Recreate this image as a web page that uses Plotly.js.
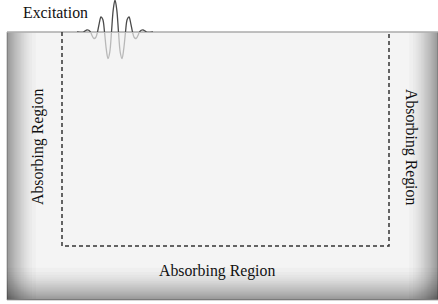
<!DOCTYPE html>
<html>
<head>
<meta charset="utf-8">
<script src="https://cdn.plot.ly/plotly-3.0.1.min.js"></script>
<style>html,body{margin:0;padding:0;background:#fff}#chart{width:438px;height:304px}</style>
</head>
<body>
<div id="chart"></div>
<script>
// Excitation wavelet: horizontal offset (px) from pulse centre, amplitude (px)
var waveOffset = [-38,-35,-33.25,-31.5,-29.75,-28,-26.25,-24.5,-22.75,-21,-19.25,-17.5,-15.75,-14,-12.25,-10.5,-8.75,-7,-5.25,-3.5,-1.75,0,1.75,3.5,5.25,7,8.75,10.5,12.25,14,15.75,17.5,19.25,21,22.75,24.5,26.25,28,29.75,31.5,33.25,35,38];
var waveAmp    = [0,-0.3,-0.3,0,1.2,2.2,1.8,0,-4,-6.5,-5.5,0,8.7,15,12.7,0,-16.9,-26.5,-20.3,0,22.4,32,22.4,0,-20.3,-26.5,-16.9,0,12.7,15,8.7,0,-5.5,-6.5,-4,0,1.8,2.2,1.2,0,-0.3,-0.3,0];

// labels
var labelExcitation = "Excitation";
var labelRegion = "Absorbing Region";

// geometry (pixels)
var W = 438, H = 304;
var box = {x0: 7, x1: 438, y0: 32, y1: 300};
var inner = {x0: 62, x1: 389, y1: 246};
var pulseX = 115;

var shapes = [];
shapes.push({type:'rect', xref:'x', yref:'y', x0:box.x0, x1:box.x1, y0:box.y0, y1:box.y1,
  fillcolor:'#f4f4f4', line:{color:'#b0b0b0', width:1}, layer:'below'});
var N = 22, op = 0.021, Ls = 34, Lb = 38;
for (var j = 1; j <= N; j++) {
  var f = 1 - Math.sqrt((j - 0.5) / N);
  var ws = Ls * f, wb = Lb * f;
  shapes.push({type:'rect', xref:'x', yref:'y', x0:box.x0, x1:box.x0 + ws, y0:box.y0+0.5, y1:box.y1,
    fillcolor:'rgba(0,0,0,'+op+')', line:{width:0}, layer:'below'});
  shapes.push({type:'rect', xref:'x', yref:'y', x0:box.x1 - ws, x1:box.x1, y0:box.y0+0.5, y1:box.y1,
    fillcolor:'rgba(0,0,0,'+op+')', line:{width:0}, layer:'below'});
  shapes.push({type:'rect', xref:'x', yref:'y', x0:box.x0, x1:box.x1, y0:box.y1 - wb, y1:box.y1,
    fillcolor:'rgba(0,0,0,'+op+')', line:{width:0}, layer:'below'});
}
shapes.push({type:'line', xref:'x', yref:'y', x0:box.x0, x1:box.x1, y0:box.y1-0.5, y1:box.y1-0.5,
  line:{color:'#7a7a7a', width:1.2}, layer:'below'});
shapes.push({type:'line', xref:'x', yref:'y', x0:box.x0, x1:box.x1, y0:box.y0, y1:box.y0,
  line:{color:'#a8a8a8', width:1}, layer:'below'});
shapes.push({type:'path', xref:'x', yref:'y',
  path:'M'+inner.x0+','+box.y0+' L'+inner.x0+','+inner.y1+' L'+inner.x1+','+inner.y1+' L'+inner.x1+','+box.y0,
  line:{color:'#333333', width:1.5, dash:'4px,3px'}});

var font = {family:'"Liberation Serif", "Times New Roman", serif', size:15.8, color:'#111111'};
var annotations = [
  {xref:'x', yref:'y', x:55.5, y:12.5, text:labelExcitation, showarrow:false, font:font},
  {xref:'x', yref:'y', x:38, y:147, text:labelRegion, showarrow:false, textangle:-90, font:font},
  {xref:'x', yref:'y', x:411, y:147, text:labelRegion, showarrow:false, textangle:90, font:font},
  {xref:'x', yref:'y', x:217, y:271, text:labelRegion, showarrow:false, font:font}
];

var traces = [
  {x:waveOffset, y:waveAmp, xaxis:'x2', yaxis:'y2', type:'scatter', mode:'lines',
   line:{color:'#4a4a4a', width:1.3, shape:'spline', smoothing:1}, hoverinfo:'skip'},
  {x:waveOffset, y:waveAmp, xaxis:'x2', yaxis:'y3', type:'scatter', mode:'lines',
   line:{color:'#b8b8b8', width:1.3, shape:'spline', smoothing:1}, hoverinfo:'skip'}
];

var hidden = {showgrid:false, zeroline:false, showticklabels:false, ticks:'', showline:false, fixedrange:true};
var layout = {
  width:W, height:H, margin:{l:0, r:0, t:0, b:0, pad:0},
  paper_bgcolor:'#ffffff', plot_bgcolor:'rgba(0,0,0,0)', showlegend:false,
  xaxis:Object.assign({range:[0, W], domain:[0,1]}, hidden),
  yaxis:Object.assign({range:[H, 0], domain:[0,1]}, hidden),
  xaxis2:Object.assign({range:[-pulseX, W - pulseX], domain:[0,1], anchor:'y2', overlaying:'x'}, hidden),
  yaxis2:Object.assign({range:[0, box.y0], domain:[(H - box.y0)/H, 1], anchor:'x2'}, hidden),
  yaxis3:Object.assign({range:[-(H - box.y0), 0], domain:[0, (H - box.y0)/H], anchor:'x2'}, hidden),
  shapes:shapes, annotations:annotations
};
Plotly.newPlot('chart', traces, layout, {staticPlot:true, displayModeBar:false});
</script>
</body>
</html>
